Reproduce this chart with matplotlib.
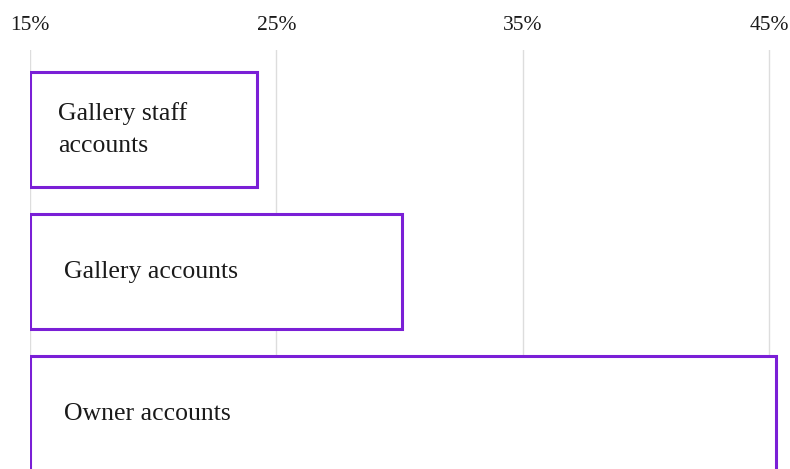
import numpy as np
import matplotlib.pyplot as plt

labels = ['Gallery staff\naccounts', 'Gallery accounts', 'Owner accounts']
values = np.array([24.2, 30.1, 45.3])
label_x = [16.15, 16.4, 16.4]
ticks = [15, 25, 35, 45]

purple = '#7a1fd6'

plt.rcParams['font.family'] = ['Liberation Serif', 'DejaVu Serif']

fig = plt.figure(figsize=(7.9, 4.69), dpi=100)
# axes spans from the 15% gridline to just past 45%
x0 = 15
xr = 45.5
px_per = 24.63
left = 30 / 790
width = (xr - x0) * px_per / 790
ax = fig.add_axes([left, 0, width, 419 / 469])

pos = np.arange(len(labels))
ax.barh(pos, values - x0, left=x0, height=0.81, color='white',
        edgecolor=purple, linewidth=2.2, zorder=3)

for i in range(len(labels)):
    ax.text(label_x[i], pos[i], labels[i], va='center', ha='left',
            fontsize=18.5, color='#1a1a1a', zorder=4, linespacing=1.55)

ax.set_xlim(x0, xr)
ax.set_ylim(2.39, -0.56)
ax.set_xticks(ticks)
ax.set_xticklabels(['%d%%' % t for t in ticks])
ax.xaxis.tick_top()
ax.tick_params(axis='x', length=0, pad=11, labelsize=15.5, labelcolor='#1a1a1a')
ax.set_yticks([])
ax.grid(axis='x', color='#dddddd', linewidth=1, zorder=0)
ax.set_axisbelow(True)
for s in ax.spines.values():
    s.set_visible(False)

plt.savefig('out.png', dpi=100)
